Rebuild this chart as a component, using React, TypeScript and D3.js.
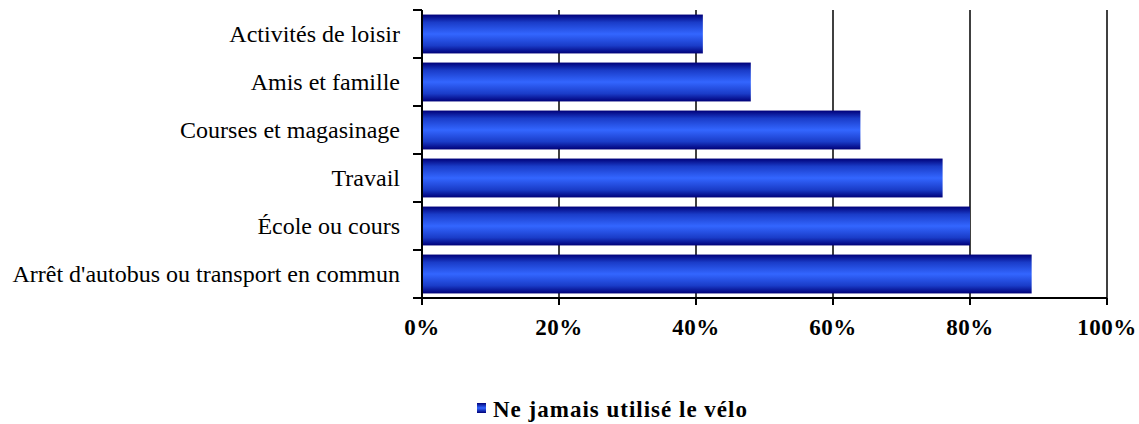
import React from "react";
import * as d3 from "d3";

const categories = [
  "Activités de loisir",
  "Amis et famille",
  "Courses et magasinage",
  "Travail",
  "École ou cours",
  "Arrêt d'autobus ou transport en commun",
];
const values = [41, 48, 64, 76, 80, 89];
const xTicks = [0, 20, 40, 60, 80, 100];
const seriesName = "Ne jamais utilisé le vélo";

const W = 1139;
const H = 424;
const left = 422;
const right = 1107;
const top = 10;
const bottom = 298;
const font = "'Liberation Serif', 'Times New Roman', 'DejaVu Serif', serif";

export default function App() {
  const x = d3.scaleLinear().domain([0, 100]).range([left, right]);
  const y = d3.scaleBand<string>().domain(categories).range([top, bottom]).paddingInner(0.19).paddingOuter(0.095);
  const bandEdges = d3.range(categories.length + 1).map((i) => top + (i * (bottom - top)) / categories.length);

  return (
    <svg width={W} height={H} style={{ position: "absolute", left: 0, top: 0 }}>
      <defs>
        <linearGradient id="barGrad" x1="0" y1="0" x2="0" y2="1">
          <stop offset="0" stopColor="#000078" />
          <stop offset="0.2" stopColor="#1a3cc8" />
          <stop offset="0.5" stopColor="#3366ff" />
          <stop offset="0.8" stopColor="#1a3cc8" />
          <stop offset="1" stopColor="#000078" />
        </linearGradient>
        <linearGradient id="legGrad" x1="0" y1="0" x2="0" y2="1">
          <stop offset="0" stopColor="#000078" />
          <stop offset="0.5" stopColor="#3366ff" />
          <stop offset="1" stopColor="#000078" />
        </linearGradient>
      </defs>
      <rect width={W} height={H} fill="#fff" />
      {xTicks.slice(1).map((t) => (
        <line key={t} x1={x(t)} x2={x(t)} y1={top} y2={bottom} stroke="#000" strokeWidth={1.5} />
      ))}
      {categories.map((c, i) => (
        <rect key={c} x={x(0)} y={y(c)} width={x(values[i]) - x(0)} height={y.bandwidth()} fill="url(#barGrad)" />
      ))}
      <line x1={left} x2={left} y1={top} y2={bottom} stroke="#000" strokeWidth={2} />
      <line x1={left} x2={right} y1={bottom} y2={bottom} stroke="#000" strokeWidth={2} />
      {bandEdges.map((e, i) => (
        <line key={i} x1={left - 9} x2={left} y1={e} y2={e} stroke="#000" strokeWidth={2} />
      ))}
      {xTicks.map((t) => (
        <line key={t} x1={x(t)} x2={x(t)} y1={bottom} y2={bottom + 7} stroke="#000" strokeWidth={2} />
      ))}
      {categories.map((c) => (
        <text key={c} x={400} y={(y(c) ?? 0) + y.bandwidth() / 2 + 8} textAnchor="end" fontFamily={font} fontSize={24} fill="#000">
          {c}
        </text>
      ))}
      {xTicks.map((t) => (
        <text key={t} x={x(t)} y={335} textAnchor="middle" fontFamily={font} fontSize={23} fontWeight="bold" letterSpacing={0.5} fill="#000">
          {t + "%"}
        </text>
      ))}
      <rect x={477} y={403} width={9} height={10} fill="url(#legGrad)" />
      <text x={493} y={417} fontFamily={font} fontSize={23} fontWeight="bold" letterSpacing={1} fill="#000">
        {seriesName}
      </text>
    </svg>
  );
}
